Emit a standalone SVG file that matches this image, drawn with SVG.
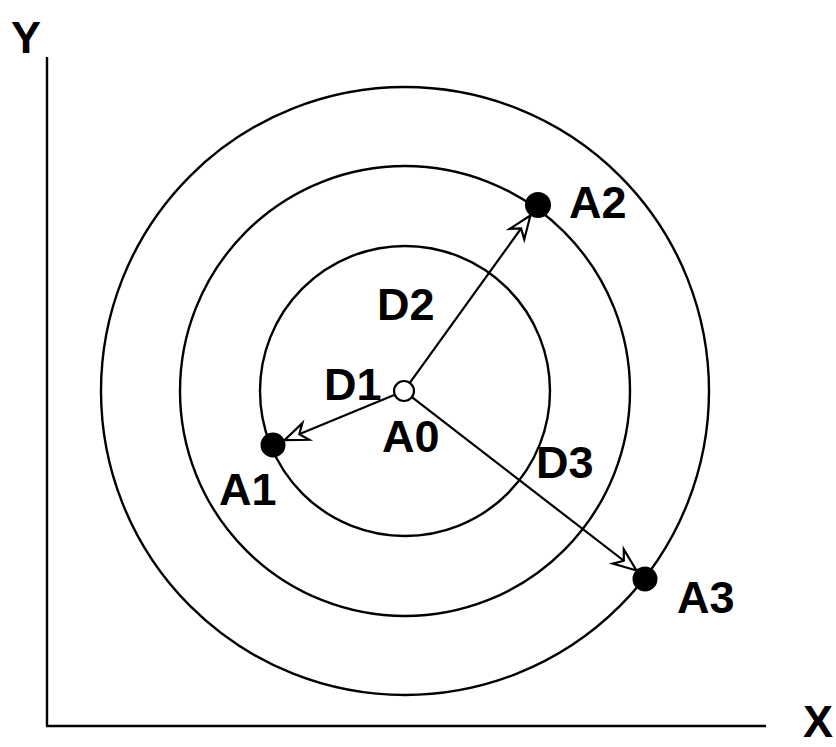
<svg xmlns="http://www.w3.org/2000/svg" width="836" height="747" viewBox="0 0 836 747">
<style>
.ring{fill:none;stroke:#000;stroke-width:2.4}
.axis{fill:none;stroke:#000;stroke-width:2.4}
.lbl{font-family:"Liberation Sans",Arial,sans-serif;font-weight:bold;font-size:45px;fill:#000}
.conn{stroke:#000;stroke-width:2.2;fill:none}
.pt{fill:#000}
</style>
<defs>
<marker id="arr" markerUnits="userSpaceOnUse" markerWidth="32" markerHeight="26" viewBox="-27 -13 32 26" refX="0" refY="0" orient="auto">
<path d="M0,0 L-23,-9 L-16,0 L-23,9 Z" fill="#fff" stroke="#000" stroke-width="2.2" stroke-linejoin="miter"/>
</marker>
</defs>
<g id="axes">
<line class="axis" x1="47" y1="57" x2="47" y2="726"/>
<line class="axis" x1="46" y1="726" x2="766" y2="726"/>
<text class="lbl" x="11" y="53">Y</text>
<text class="lbl" x="803" y="737">X</text>
</g>
<g id="rings">
<circle class="ring" cx="405" cy="391" r="304"/>
<circle class="ring" cx="405" cy="391" r="225"/>
<circle class="ring" cx="405" cy="391" r="145"/>
</g>
<g id="connectors">
<line class="conn" x1="394.8" y1="394.8" x2="284.5" y2="440.2" marker-end="url(#arr)"/>
<line class="conn" x1="409.8" y1="382.9" x2="530.4" y2="215.5" marker-end="url(#arr)"/>
<line class="conn" x1="411.9" y1="397.2" x2="636.5" y2="570.5" marker-end="url(#arr)"/>
<text class="lbl" x="324" y="400">D1</text>
<text class="lbl" x="377" y="320">D2</text>
<text class="lbl" x="536" y="478">D3</text>
</g>
<g id="A0">
<circle cx="404" cy="391" r="10" fill="#fff" stroke="#000" stroke-width="2.2"/>
<text class="lbl" x="382" y="452">A0</text>
</g>
<g id="A1">
<circle class="pt" cx="273" cy="445" r="12.5"/>
<text class="lbl" x="219" y="505">A1</text>
</g>
<g id="A2">
<circle class="pt" cx="538" cy="205" r="13"/>
<text class="lbl" x="569" y="218">A2</text>
</g>
<g id="A3">
<circle class="pt" cx="645" cy="579" r="12.5"/>
<text class="lbl" x="677" y="613">A3</text>
</g>
</svg>
